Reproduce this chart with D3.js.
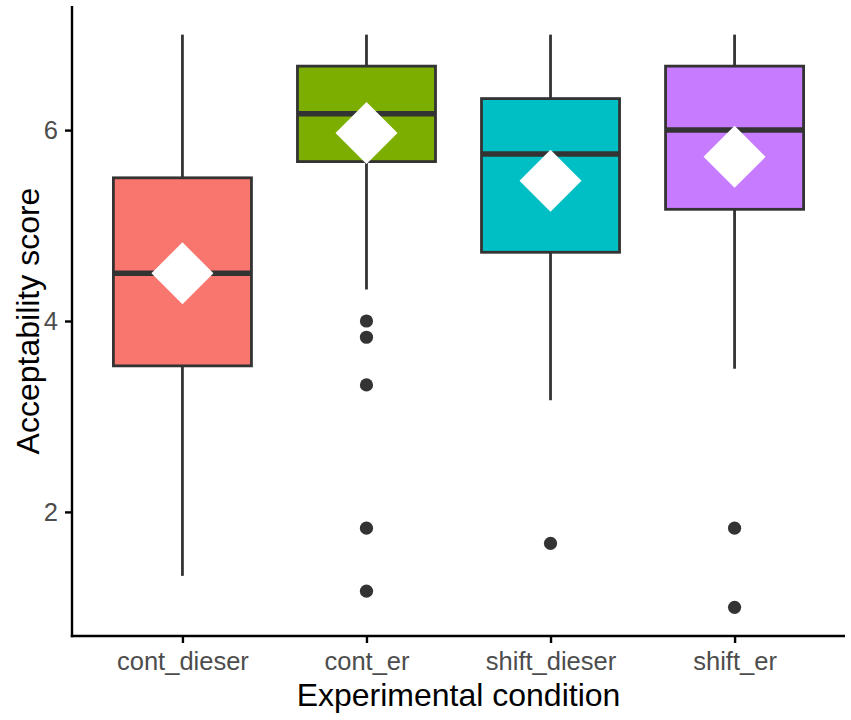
<html>
<head>
 <meta charset="UTF-8">
 <title>Acceptability score by experimental condition</title>
 <script type="text/javascript" src="https://cdn.jsdelivr.net/npm/d3@7"></script>
 <style>
body {
  margin: 0;
  background: white;
}
svg {
  display: block;
  font-family: "Liberation Sans", Arial, Helvetica, sans-serif;
}
.box {
  stroke: #333333;
  stroke-width: 2.8px;
}
.median, .whisker {
  stroke: #333333;
}
.median {
  stroke-width: 5.5px;
}
.whisker {
  stroke-width: 2.8px;
}
.outlier {
  fill: #333333;
}
.mean {
  fill: white;
}
.axis path, .axis line {
  stroke: black;
  stroke-width: 2.4px;
}
.axis text {
  fill: #4d4d4d;
  font-size: 25.5px;
}
.title {
  fill: black;
  font-size: 32px;
}
 </style>
</head>

<body>
 <div id="chart"></div>
</body>

<script type="text/javascript">
// summary stats per condition
var conditions = ["cont_dieser", "cont_er", "shift_dieser", "shift_er"],
  colors = ["#F8766D", "#7CAE00", "#00BFC4", "#C77CFF"],
  lowerWhisker = [1.33, 4.33, 3.17, 3.5],
  q1 = [3.53, 5.67, 4.72, 5.17],
  median = [4.5, 6.17, 5.75, 6.0],
  q3 = [5.5, 6.67, 6.33, 6.67],
  upperWhisker = [7, 7, 7, 7],
  means = [4.5, 5.97, 5.47, 5.72],
  outliers = [
    [],
    [4.0, 3.83, 3.33, 1.83, 1.17],
    [1.67],
    [1.83, 1.0]
  ],
  yTicks = [2, 4, 6];

(function(){
  var width = 851,
    height = 720,
    pLeft = 72, pRight = 845, pTop = 6, pBottom = 636;

  var svg = d3.select("#chart").append("svg")
    .attr("width", width)
    .attr("height", height);

  // ggplot style discrete scale: 0.6 units padding each side
  var xscale = d3.scalePoint()
    .domain(conditions)
    .range([pLeft, pRight])
    .padding(0.6);
  var boxW = xscale.step() * 0.75;

  var yscale = d3.scaleLinear()
    .domain([0.7, 7.3])
    .range([pBottom, pTop]);

  var rows = conditions.map(function(c, i){
    return {
      name: c, color: colors[i], lo: lowerWhisker[i], q1: q1[i], med: median[i],
      q3: q3[i], hi: upperWhisker[i], mean: means[i], out: outliers[i]
    };
  });

  var g = svg.selectAll(".cond")
    .data(rows)
    .enter().append("g")
    .attr("class", "cond");

  g.append("line")
    .attr("class", "whisker")
    .attr("x1", function(d){ return xscale(d.name); })
    .attr("x2", function(d){ return xscale(d.name); })
    .attr("y1", function(d){ return yscale(d.hi); })
    .attr("y2", function(d){ return yscale(d.q3); });
  g.append("line")
    .attr("class", "whisker")
    .attr("x1", function(d){ return xscale(d.name); })
    .attr("x2", function(d){ return xscale(d.name); })
    .attr("y1", function(d){ return yscale(d.q1); })
    .attr("y2", function(d){ return yscale(d.lo); });

  g.append("rect")
    .attr("class", "box")
    .attr("x", function(d){ return xscale(d.name) - boxW / 2; })
    .attr("width", boxW)
    .attr("y", function(d){ return yscale(d.q3); })
    .attr("height", function(d){ return yscale(d.q1) - yscale(d.q3); })
    .attr("fill", function(d){ return d.color; });

  g.append("line")
    .attr("class", "median")
    .attr("x1", function(d){ return xscale(d.name) - boxW / 2; })
    .attr("x2", function(d){ return xscale(d.name) + boxW / 2; })
    .attr("y1", function(d){ return yscale(d.med); })
    .attr("y2", function(d){ return yscale(d.med); });

  g.selectAll(".outlier")
    .data(function(d){ return d.out.map(function(v){ return {name: d.name, v: v}; }); })
    .enter().append("circle")
    .attr("class", "outlier")
    .attr("cx", function(d){ return xscale(d.name); })
    .attr("cy", function(d){ return yscale(d.v); })
    .attr("r", 6.6);

  // mean as white diamond
  var diamond = d3.symbol().type(d3.symbolSquare).size(2 * 31 * 31);
  g.append("path")
    .attr("class", "mean")
    .attr("d", diamond)
    .attr("transform", function(d){
      return "translate(" + xscale(d.name) + "," + yscale(d.mean) + ") rotate(45)";
    });

  // axes
  svg.append("g")
    .attr("class", "axis")
    .attr("transform", "translate(0," + pBottom + ")")
    .call(d3.axisBottom(xscale).tickSize(7).tickPadding(9).tickSizeOuter(0))
    .call(function(a){ a.select(".domain").attr("d", "M" + (pLeft - 1.2) + ",0H" + pRight); });

  svg.append("g")
    .attr("class", "axis")
    .attr("transform", "translate(" + pLeft + ",0)")
    .call(d3.axisLeft(yscale).tickValues(yTicks).tickFormat(d3.format("d"))
      .tickSize(7).tickPadding(7).tickSizeOuter(0))
    .call(function(a){ a.select(".domain").attr("d", "M0," + pTop + "V" + (pBottom + 1.2)); });

  svg.selectAll(".axis text").attr("font-family", null).attr("font-size", null);

  svg.append("text")
    .attr("class", "title")
    .attr("x", (pLeft + pRight) / 2)
    .attr("y", 706)
    .attr("text-anchor", "middle")
    .text("Experimental condition");

  svg.append("text")
    .attr("class", "title")
    .attr("transform", "translate(39," + (pTop + pBottom) / 2 + ") rotate(-90)")
    .attr("text-anchor", "middle")
    .text("Acceptability score");
})();
</script>
</html>
